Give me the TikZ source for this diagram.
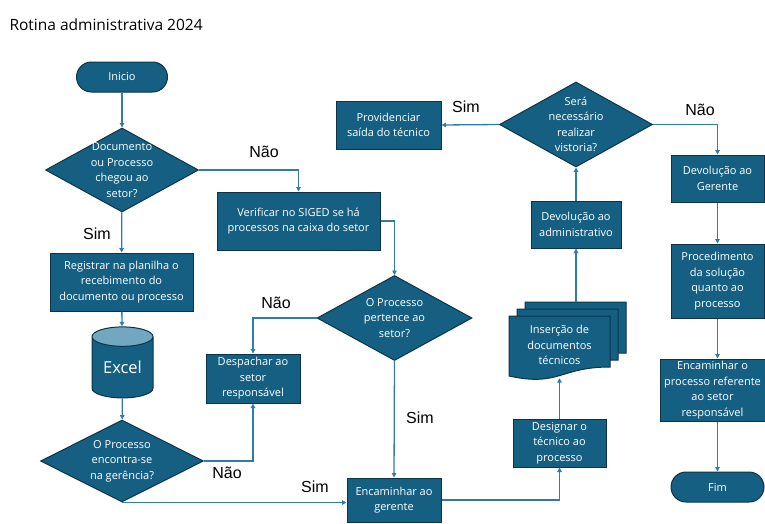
\documentclass[tikz,border=0pt]{standalone}
\usepackage{fontspec}
\setmainfont{Open Sans}
\newfontfamily\answerfont{Liberation Sans}
\usetikzlibrary{shapes.geometric,arrows.meta}
\definecolor{boxblue}{HTML}{156082}
\definecolor{boxedge}{HTML}{0C3347}
\definecolor{lineblue}{HTML}{2F7CA6}
\definecolor{lidblue}{HTML}{72A7C0}
\tikzset{
  every node/.style={
    font=\fontsize{11}{15.5}\selectfont
  },
  process/.style={
    shape=rectangle,
    draw=boxedge,
    line width=1pt,
    fill=boxblue,
    text=white,
    align=center,
    inner sep=0pt
  },
  decision/.style={
    shape=diamond,
    draw=boxedge,
    line width=1pt,
    fill=boxblue,
    inner sep=0pt,
    label={[text=white,align=center]center:{#1}}
  },
  terminal/.style={
    shape=rectangle,
    rounded corners=15pt,
    draw=boxedge,
    line width=1pt,
    fill=boxblue,
    text=white,
    inner sep=0pt
  },
  flow/.style={
    draw=lineblue,
    line width=1.3pt,
    -{Triangle[length=4.5pt,width=4.5pt]}
  }
}

\begin{document}
\begin{tikzpicture}[x=1pt,y=-1pt,
    answer/.style={font=\answerfont\fontsize{16}{16}\selectfont},
    docpage/.style={draw=boxedge,line width=1pt,fill=boxblue}
  ]
  \useasboundingbox (0,0) rectangle (765,523);
  \node[anchor=west,font=\fontsize{15.5}{17}\selectfont] (titulo) at (6,25) {Rotina administrativa 2024};

  \node[terminal,minimum width=91,minimum height=30] (inicio) at (122,77) {Inicio};
  \node[decision={Documento\\ou Processo\\chegou ao\\setor?},minimum width=153,minimum height=84] (chegou) at (122,170) {};
  \node[process,minimum width=143,minimum height=58] (registrar) at (121.5,282)
    {Registrar na planilha o\\recebimento do\\documento ou processo};
  \node[shape=cylinder,shape border rotate=90,aspect=0.5,draw=boxedge,line width=1pt,
    cylinder uses custom fill,cylinder body fill=boxblue,cylinder end fill=lidblue,
    text=white,font=\fontsize{16.5}{18}\selectfont,minimum width=61,minimum height=71,inner sep=0pt]
    (excel) at (122.5,367.5) {Excel};
  \node[decision={O Processo\\encontra-se\\na gerência?},minimum width=163,minimum height=82] (gerencia) at (122,461) {};

  \node[process,minimum width=163,minimum height=58] (verificar) at (298.5,221)
    {Verificar no SIGED se há\\processos na caixa do setor};
  \node[decision={O Processo\\pertence ao\\setor?},minimum width=155,minimum height=85] (pertence) at (394.5,318) {};
  \node[process,minimum width=94,minimum height=49] (despachar) at (253,378.5)
    {Despachar ao\\setor\\responsável};
  \node[process,minimum width=94,minimum height=44] (encaminhar) at (394,500)
    {Encaminhar ao\\gerente};

  \node[process,minimum width=93,minimum height=48] (designar) at (559.5,443)
    {Designar o\\técnico ao\\processo};
  \foreach \dx/\dy in {16/-14,8/-7,0/0}
    \draw[docpage,shift={(509+\dx,316+\dy)}] (0,0) -- (101,0) -- (101,51)
      .. controls (50.5,51) and (50.5,71) .. (0,60) -- cycle;
  \node[text=white,align=center,inner sep=0pt,minimum width=101,minimum height=66] (insercao) at (559.5,345)
    {Inserção de\\documentos\\técnicos};
  \coordinate (pilha) at (576,302);
  \node[process,minimum width=90,minimum height=47] (devadm) at (576,224.5)
    {Devolução ao\\administrativo};
  \node[decision={Será\\necessário\\realizar\\vistoria?},minimum width=153,minimum height=85] (vistoria) at (576,124.5) {};
  \node[process,minimum width=105,minimum height=48] (providenciar) at (388.5,125)
    {Providenciar\\saída do técnico};

  \node[process,minimum width=93,minimum height=47] (devger) at (717.5,178.5)
    {Devolução ao\\Gerente};
  \node[process,minimum width=93,minimum height=74] (procedimento) at (717.5,281)
    {Procedimento\\da solução\\quanto ao\\processo};
  \node[process,minimum width=105,minimum height=62] (encproc) at (712.5,390)
    {Encaminhar o\\processo referente\\ao setor\\responsável};
  \node[terminal,minimum width=93,minimum height=30] (fim) at (717.5,487) {Fim};

  % connectors
  \draw[flow] (inicio) -- (chegou);
  \draw[flow] (chegou) -- (registrar);
  \draw[flow] (registrar) -- (excel);
  \draw[flow] (excel) -- (gerencia);
  \draw[flow] (chegou.east) -| (verificar.north);
  \draw[flow] (verificar.east) -| (pertence.north);
  \draw[flow] (pertence.west) -| (despachar.north);
  \draw[flow] (pertence.south) -- (encaminhar.north);
  \draw[flow] (gerencia.east) -| (despachar.south);
  \draw[flow] (gerencia.south) -- (gerencia.south -| encaminhar.west);
  \draw[flow] (encaminhar.east) -| (designar.south);
  \draw[flow] (designar.north) -- (insercao.south);
  \draw[flow] (pilha) -- (devadm.south);
  \draw[flow] (devadm.north) -- (vistoria.south);
  \draw[flow] (vistoria.west) -- (providenciar.east);
  \draw[flow] (vistoria.east) -| (devger.north);
  \draw[flow] (devger) -- (procedimento);
  \draw[flow] (procedimento.south) -- (procedimento.south |- encproc.north);
  \draw[flow] (fim.north |- encproc.south) -- (fim.north);

  \node[answer] (sim1) at (97,234) {Sim};
  \node[answer] (nao1) at (264,152) {Não};
  \node[answer] (nao2) at (276,303) {Não};
  \node[answer] (sim2) at (420,418) {Sim};
  \node[answer] (nao3) at (227,473) {Não};
  \node[answer] (sim3) at (315,487) {Sim};
  \node[answer] (sim4) at (466,107) {Sim};
  \node[answer] (nao4) at (700,110) {Não};
\end{tikzpicture}
\end{document}
